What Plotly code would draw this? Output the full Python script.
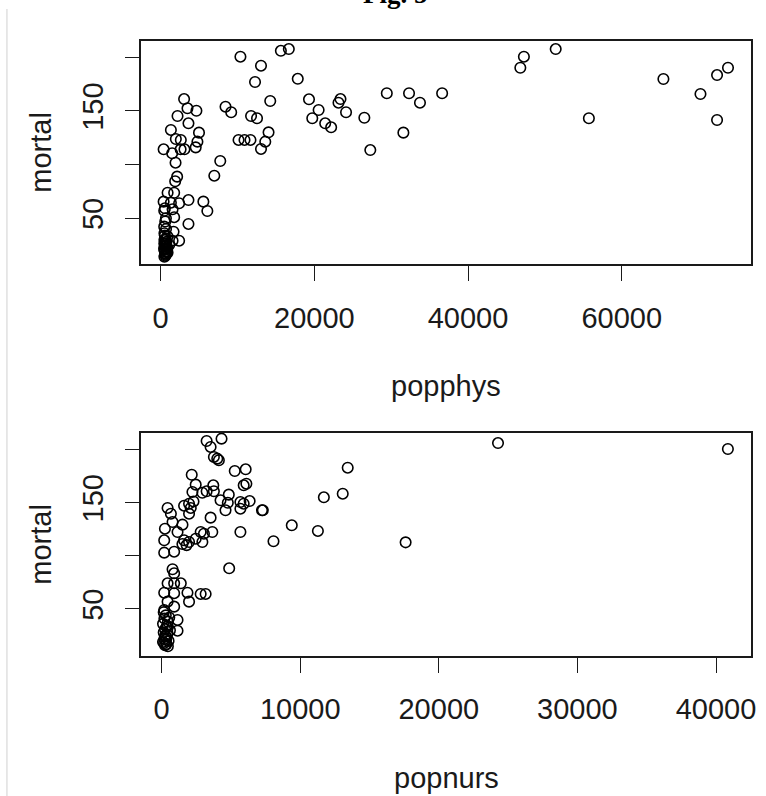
import plotly.graph_objects as go

# ---- data ----
popphys = [10383, 13060, 12283, 15645, 16680, 17843, 14262,
           19305, 20559, 19731, 21413, 22188, 23403, 23145, 24127, 26507, 27283, 29430, 31588, 32325, 33747, 36631,
           47272, 46807, 51410, 55728, 65426, 70249, 72408, 73830, 72408,
           8443, 9180, 11766, 12542,
           10137, 10913, 11689,
           14042, 13615, 13060,
           7758, 6982,
           3052, 3491, 4655, 2198, 3620, 1332, 1978, 2625, 4991, 4784,
           388, 1500, 2600, 3100, 4564,
           1940, 2146, 1890,
           905, 1759, 388, 1332, 2405, 3620, 5560, 6077,
           466, 1552, 685, 1759, 3620, 466, 1681, 556,
           490, 490, 490, 490, 490, 1552, 2405, 905, 1112,
           600, 700, 550, 650, 750, 600, 800, 550, 700, 650, 800, 850, 450, 520, 900,
           620, 580, 680, 560, 640]
mortal_phys = [200.6, 192.2, 177.0, 206.1, 207.7, 180.0, 159.3,
               160.9, 150.9, 143.2, 138.5, 134.8, 161.1, 157.7, 148.8, 143.7, 113.6, 166.5, 129.8, 166.5, 157.7, 166.5,
               200.6, 190.3, 207.7, 143.2, 179.8, 165.8, 183.5, 190.3, 141.6,
               154.0, 148.8, 145.3, 143.2,
               123.0, 123.0, 123.0,
               130.1, 121.4, 114.6,
               103.4, 89.7,
               161.1, 152.5, 150.2, 145.3, 138.5, 132.3, 123.9, 123.0, 129.8, 121.4,
               114.3, 110.6, 114.3, 114.3, 116.1,
               101.8, 88.8, 84.5,
               73.8, 73.8, 65.5, 64.5, 64.0, 67.0, 65.5, 56.8,
               57.0, 58.4, 50.0, 51.0, 44.7, 42.2, 37.5, 59.3,
               36.0, 29.8, 26.7, 20.5, 14.2, 29.1, 29.1, 32.9, 25.1,
               47, 40, 34, 31, 28, 24, 22, 19, 17, 16, 19, 23, 22, 26, 18,
               15, 21, 25, 30, 17]

popnurs = [3247, 4322, 3534, 3770, 4014, 4129, 5276, 6064,
           2172, 5921, 6114, 2459, 2222, 2939, 3727, 3770, 3247, 4845, 4250, 4774, 5684, 6351,
           430, 1978, 2100, 1978, 4609, 5684, 5921, 7240, 7300,
           3534, 667, 788, 1505, 237, 1147, 2817, 3053, 3656, 5684, 9390,
           186, 1620, 1978, 2459, 2939, 8071, 1620, 2300, 1500, 1800,
           13426, 11705, 13067, 11275, 17605, 4874, 24271, 40858,
           186, 903, 788, 903, 430, 903, 1383, 186, 903, 1864, 2817, 3175, 430, 1978, 186, 903, 1147, 1147,
           150, 300, 200, 450, 100, 350, 250, 150, 400, 300, 200, 500, 100, 350, 250, 450, 600, 550,
           180, 320, 260, 420]
mortal_nurs = [207.8, 210.0, 202.2, 192.8, 191.2, 189.7, 179.6, 181.2,
               176.1, 166.2, 167.7, 166.8, 159.9, 159.2, 166.2, 160.6, 160.6, 157.4, 152.1, 149.8, 150.5, 151.4,
               144.9, 148.9, 144.9, 139.5, 142.7, 144.2, 148.9, 142.7, 142.7,
               135.8, 139.5, 131.7, 129.2, 125.4, 122.3, 122.3, 120.7, 122.3, 122.3, 128.6,
               114.5, 114.5, 112.9, 116.0, 112.9, 113.6, 147.0, 151.0, 111.0, 110.0,
               182.7, 154.9, 158.3, 123.3, 112.6, 88.2, 205.9, 200.3,
               102.9, 103.8, 87.3, 83.5, 74.1, 74.1, 74.1, 65.3, 64.8, 65.3, 64.1, 64.1, 56.9, 56.9, 49.1, 52.2, 39.7, 29.6,
               47, 44, 41, 38, 36, 33, 31, 28, 26, 24, 22, 20, 19, 17, 16, 15, 30, 42,
               18, 21, 25, 34]

phys_ticks = [0, 20000, 40000, 60000]
phys_labels = ["0", "20000", "40000", "60000"]
nurs_ticks = [0, 10000, 20000, 30000, 40000]
nurs_labels = ["0", "10000", "20000", "30000", "40000"]
mortal_ticks = [50, 100, 150, 200]
mortal_labels = ["50", "", "150", ""]

W, H = 766, 796
FONT = "Liberation Sans, Arial, sans-serif"
INK = "#1a1a1a"

def px2x(p):
    return p / W

def py2y(p):
    return 1 - p / H

marker = dict(symbol="circle-open", size=10.5, color="black", line=dict(width=1.6, color="black"))

fig = go.Figure()
fig.add_trace(go.Scatter(x=popphys, y=mortal_phys, mode="markers", marker=marker,
                         xaxis="x", yaxis="y", showlegend=False))
fig.add_trace(go.Scatter(x=popnurs, y=mortal_nurs, mode="markers", marker=marker,
                         xaxis="x2", yaxis="y2", showlegend=False))

xdom = [px2x(142.3), px2x(756)]
common_axis = dict(showline=True, mirror=True, linecolor=INK, linewidth=1.6,
                   showgrid=False, zeroline=False, ticks="outside", ticklen=15,
                   tickwidth=1.4, tickcolor=INK,
                   tickfont=dict(family=FONT, size=29, color=INK))

fig.update_layout(
    width=W, height=H,
    margin=dict(l=0, r=0, t=0, b=0),
    paper_bgcolor="white", plot_bgcolor="white",
    xaxis=dict(domain=xdom, range=[-2508, 76833], tickvals=phys_ticks, ticktext=phys_labels,
               anchor="y", ticklabelstandoff=12, **common_axis),
    yaxis=dict(domain=[py2y(264.3), py2y(40.7)], range=[7.1, 215.5], tickvals=mortal_ticks,
               ticktext=mortal_labels, tickangle=-90, anchor="x", ticklabelstandoff=10, **common_axis),
    xaxis2=dict(domain=xdom, range=[-1462, 42530], tickvals=nurs_ticks, ticktext=nurs_labels,
                anchor="y2", ticklabelstandoff=12, **common_axis),
    yaxis2=dict(domain=[py2y(655.7), py2y(432.7)], range=[6.1, 215.6], tickvals=mortal_ticks,
                ticktext=mortal_labels, tickangle=-90, anchor="x2", ticklabelstandoff=10, **common_axis),
)

lab = dict(family=FONT, size=29, color=INK)
ann = [
    dict(text="popphys", x=px2x(449), y=py2y(386), font=lab),
    dict(text="popnurs", x=px2x(449), y=py2y(778), font=lab),
    dict(text="mortal", x=px2x(41), y=py2y(152), font=lab, textangle=-90),
    dict(text="mortal", x=px2x(41), y=py2y(544), font=lab, textangle=-90),
]
for a in ann:
    fig.add_annotation(xref="paper", yref="paper", showarrow=False,
                       xanchor="center", yanchor="middle", **a)

fig.add_annotation(text="<b>Fig. 5</b>", xref="paper", yref="paper", x=px2x(398), y=py2y(-6),
                   xanchor="center", yanchor="middle", showarrow=False,
                   font=dict(family="Liberation Serif, Times New Roman, serif", size=27, color="black"))

fig.add_shape(type="line", xref="paper", yref="paper", x0=px2x(7), x1=px2x(7), y0=py2y(9), y1=0,
              line=dict(color="#d0d0d0", width=1))

fig.write_html("out.html")
